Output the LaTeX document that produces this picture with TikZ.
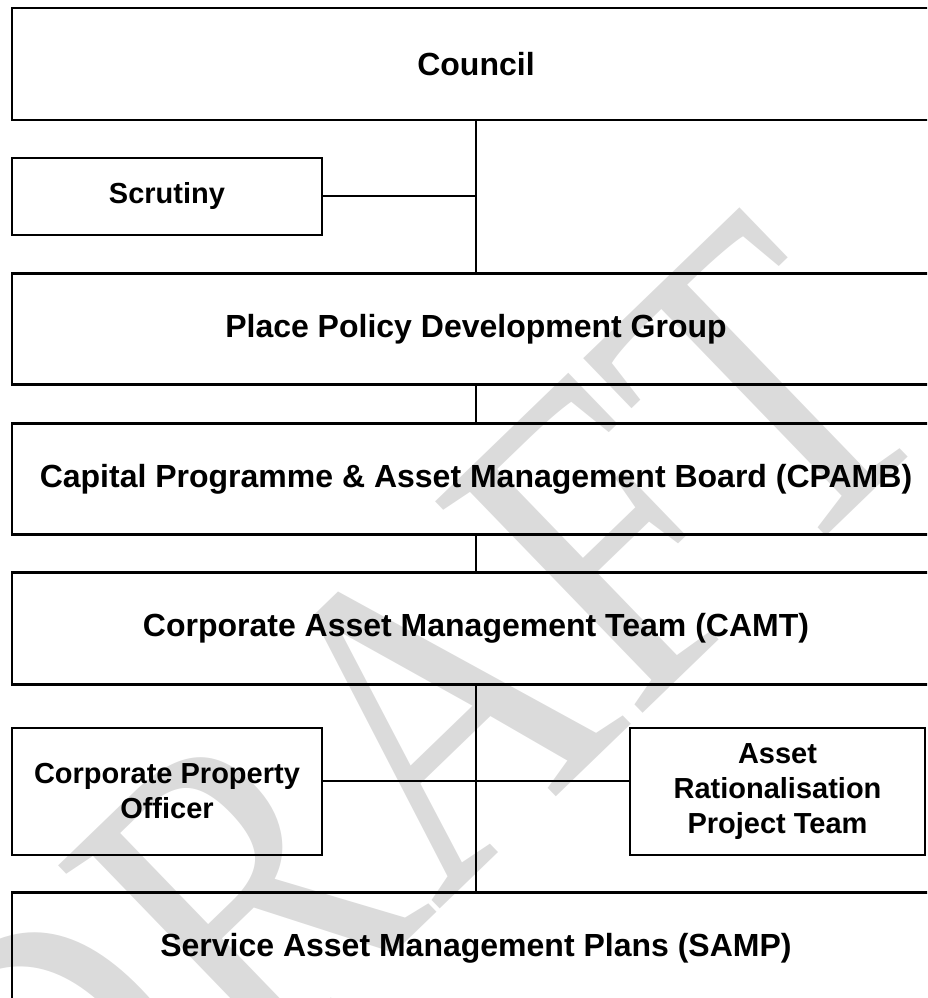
\documentclass[tikz,border=0pt]{standalone}
\usepackage{fontspec}
\setmainfont{Liberation Sans}
\newfontfamily\wmfont{Liberation Serif}
\begin{document}
\begin{tikzpicture}[x=1pt,y=-1pt,
  box/.style={draw=black, line width=2.2pt, inner sep=0pt, align=center,
    font=\bfseries\fontsize{32}{37}\selectfont},
  smallbox/.style={box, font=\bfseries\fontsize{29}{35}\selectfont},
  conn/.style={line width=2.2pt},
  watermark/.style={text=black!14, inner sep=0pt, font=\wmfont\fontsize{377}{377}\selectfont}]
\useasboundingbox (0,0) rectangle (927,998);
\clip (0,0) rectangle (927,998);
\begin{scope}[shift={(402,739)}, rotate=44, yscale=1.2]
  \node[watermark, transform shape] (wm) at (0,0) {DRAFT};
\end{scope}
\node[box, minimum width=928pt, minimum height=112pt] (council) at (476,64) {Council};
\node[smallbox, minimum width=310pt, minimum height=77pt] (scrutiny) at (167,196.5) {Scrutiny};
\node[box, minimum width=928pt, minimum height=111pt] (place) at (476,329) {Place Policy Development Group};
\node[box, minimum width=928pt, minimum height=111pt] (cpamb) at (476,479) {Capital Programme \& Asset Management Board (CPAMB)};
\node[box, minimum width=928pt, minimum height=112pt] (camt) at (476,628.5) {Corporate Asset Management Team (CAMT)};
\node[smallbox, minimum width=310pt, minimum height=127pt] (cpo) at (167,791.5) {Corporate Property\\Officer};
\node[smallbox, minimum width=295pt, minimum height=127pt] (arpt) at (777.5,791.5) {Asset\\Rationalisation\\Project Team};
\node[box, minimum width=928pt, minimum height=112pt] (samp) at (476,948.5) {Service Asset Management Plans (SAMP)};
\coordinate (j1) at (476,196);
\coordinate (j2) at (476,781);
\draw[conn] (council.south) -- (place.north);
\draw[conn] (scrutiny.east |- j1) -- (j1);
\draw[conn] (place.south) -- (cpamb.north);
\draw[conn] (cpamb.south) -- (camt.north);
\draw[conn] (camt.south) -- (samp.north);
\draw[conn] (cpo.east |- j2) -- (arpt.west |- j2);
\end{tikzpicture}
\end{document}
